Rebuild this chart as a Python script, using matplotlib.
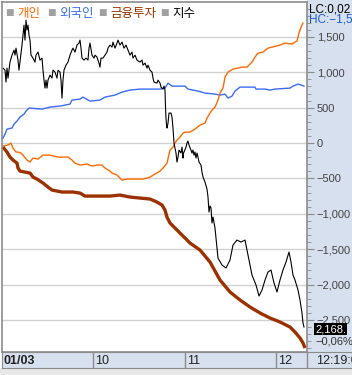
import matplotlib.pyplot as plt
from matplotlib.patches import Rectangle
from matplotlib.ticker import MultipleLocator, FuncFormatter

# x = session position (left edge of plot = 2), y = cumulative net buying
blue_x = [3, 5, 7, 12, 14, 17, 20, 24, 26, 29, 42, 50, 60, 70, 72, 80, 83, 90, 100, 105,
          110, 115, 122, 130, 140, 160, 165, 168, 172, 185, 188, 198, 205, 215, 220, 225,
          228, 232, 235, 240, 255, 256, 265, 270, 275, 290, 293, 298, 301, 304]
blue_y = [71, 127, 198, 212, 268, 311, 367, 410, 452, 495, 480, 509, 523, 551, 608, 622, 650,
          593, 608, 650, 664, 678, 721, 749, 763, 763, 777, 848, 805, 805, 763, 735, 707, 692,
          678, 692, 636, 664, 735, 791, 791, 763, 763, 749, 763, 777, 805, 834, 820, 805]

orange_x = [3, 8, 11, 13, 16, 18, 21, 23, 27, 30, 33, 38, 43, 50, 58, 68, 72, 75, 80, 87,
            92, 97, 102, 105, 110, 112, 117, 122, 127, 142, 147, 150, 155, 160, 163, 167,
            170, 173, 175, 177, 180, 183, 185, 190, 195, 200, 205, 207, 210, 212, 215, 218,
            220, 223, 225, 228, 233, 238, 242, 247, 252, 255, 258, 263, 268, 272, 280, 285,
            292, 295, 297, 299, 301, 303]
orange_y = [-42, -28, 0, -71, -127, -127, -141, -170, -240, -268, -212, -226, -170, -170,
            -198, -198, -240, -283, -311, -297, -325, -311, -311, -353, -396, -424, -452,
            -523, -509, -509, -495, -480, -438, -396, -353, -283, -99, -57, 0, 42, 85, 141,
            155, 155, 198, 254, 283, 353, 424, 466, 509, 608, 707, 777, 933, 1003, 1046, 1060,
            1074, 1074, 1145, 1215, 1272, 1286, 1342, 1356, 1385, 1413, 1399, 1427, 1441,
            1554, 1639, 1696]

brown_x = [3, 7, 10, 13, 17, 18, 20, 25, 30, 33, 37, 40, 43, 48, 52, 57, 62, 73, 80, 85,
           97, 110, 120, 130, 140, 150, 157, 162, 165, 167, 170, 175, 180, 185, 190, 200,
           210, 220, 230, 240, 250, 260, 270, 280, 290, 295, 300, 303, 305]
brown_y = [-57, -127, -198, -240, -283, -353, -396, -410, -424, -480, -509, -537, -565, -622,
           -664, -678, -692, -692, -707, -749, -749, -749, -735, -763, -777, -791, -834, -876,
           -947, -1046, -1130, -1201, -1272, -1342, -1413, -1512, -1681, -1936, -2105, -2218,
           -2317, -2402, -2473, -2529, -2600, -2671, -2755, -2826, -2897]

index_x = [3, 5, 6, 7, 8, 9, 10, 12, 14, 15, 16, 18, 19, 20, 22, 23, 24, 25, 26, 27, 28, 29,
           30, 31, 33, 35, 36, 38, 40, 42, 43, 44, 45, 46, 47, 48, 50, 52, 53, 55, 57, 58, 60,
           61, 62, 63, 64, 66, 68, 70, 72, 73, 75, 77, 79, 80, 81, 82, 84, 86, 88, 89, 90, 92,
           94, 95, 97, 99, 100, 101, 103, 105, 107, 108, 110, 112, 113, 115, 117, 118, 120,
           122, 124, 126, 128, 130, 132, 133, 135, 137, 140, 142, 143, 145, 147, 148, 150,
           152, 153, 154, 157, 158, 160, 161, 163, 164, 165, 165.5, 166, 166.5, 167, 168, 169,
           171, 172, 173, 173.5, 174, 175, 176, 177, 178, 179, 181, 182, 183, 183.5, 184, 186,
           187, 188, 189, 191, 192, 193, 194, 195, 196, 197, 198, 199, 201, 202, 203, 205, 207,
           208, 208.5, 209, 210, 211, 212, 213, 215, 218, 222, 226, 230, 233, 237, 241, 245,
           248, 252, 256, 259, 262, 265, 268, 271, 274, 277, 280, 283, 286, 289, 291, 293, 295,
           298, 300, 302, 303, 304]
index_y = [1060, 1031, 862, 1060, 918, 1031, 1145, 1243, 1314, 1243, 1342, 1173, 1031, 1145,
           1385, 1526, 1667, 1455, 1738, 1597, 1667, 1526, 1455, 1243, 1201, 1145, 1243, 1286,
           1173, 1201, 1031, 890, 777, 890, 777, 890, 961, 918, 1031, 1003, 918, 1031, 1003,
           890, 636, 890, 1031, 1102, 1145, 1243, 1314, 1342, 1286, 1385, 1413, 1455, 1342,
           1201, 1173, 1201, 1173, 1342, 1413, 1243, 1201, 1243, 1215, 1130, 1074, 1201, 1201,
           1243, 1286, 1342, 1385, 1356, 1427, 1342, 1413, 1455, 1385, 1427, 1342, 1385, 1314,
           1243, 1286, 1201, 1243, 1173, 1145, 1173, 1102, 1130, 1060, 1102, 1031, 1003, 918,
           862, 848, 890, 848, 791, 763, 805, 749, 509, 353, 254, 212, 283, 424, 424, 367, 212,
           113, 0, -71, -141, -268, -198, -99, -141, -57, -212, -141, -127, -57, 0, 28, -28,
           -99, -141, -99, -170, -127, -212, -141, -198, -268, -311, -410, -480, -551, -650,
           -763, -876, -975, -890, -918, -1130, -1046, -1201, -1625, -1724, -1766, -1653,
           -1441, -1371, -1399, -1371, -1582, -1865, -2006, -2162, -2077, -1936, -1823, -1794,
           -1978, -2105, -1936, -1794, -1681, -1540, -1681, -1865, -1936, -2077, -2218, -2402,
           -2543, -2600]

month_pos = [2, 93, 185, 276]
month_lab = ['01/03', '10', '11', '12']
legend_lab = ['개인', '외국인', '금융투자', '지수']
legend_col = ['#ff6a00', '#3a6cf4', '#993300', '#000000']

W, H = 352, 375
def fy(py):
    return 1 - py / H

panel = '#d6e0ee'
edge = '#8c8c8c'
num_font = ['Liberation Sans', 'DejaVu Sans']
kr_font = ['Noto Sans CJK KR', 'DejaVu Sans']

fig = plt.figure(figsize=(W / 100, H / 100), dpi=100)
fig.patch.set_facecolor('white')
fig.patches.append(Rectangle((307 / W, fy(352)), 45 / W, 352 / H, transform=fig.transFigure,
                             facecolor=panel, edgecolor='none', zorder=-1))

ax = fig.add_axes([2 / W, fy(352), 305 / W, 350 / H])
ax.set_xlim(2, 307)
ax.set_ylim(-2953, 1994)
ax.plot(blue_x, blue_y, color=legend_col[1], lw=1.0)
ax.plot(orange_x, orange_y, color=legend_col[0], lw=1.0)
ax.plot(brown_x, brown_y, color='#9c3100', lw=2.4, solid_capstyle='butt')
ax.plot(index_x, index_y, color='black', lw=0.8)

ax.yaxis.tick_right()
ax.set_yticks(range(-2500, 2000, 500))
ax.yaxis.set_minor_locator(MultipleLocator(100))
ax.yaxis.set_major_formatter(FuncFormatter(lambda v, p: f'{int(v):,}'.replace('-', '\u2212')))
ax.tick_params(axis='y', which='major', length=5, color=edge, labelsize=8,
               labelcolor='#444444', pad=2)
ax.tick_params(axis='y', which='minor', length=3, color=edge)
for lab in ax.get_yticklabels():
    lab.set_family(num_font)
ax.set_xticks([])
ax.grid(axis='y', color='#d2d2d2', lw=1)
ax.set_axisbelow(True)
for s in ax.spines.values():
    s.set_color(edge)
    s.set_linewidth(1.2)

# legend row
lx = [5, 47, 98, 160]
for i in range(4):
    fig.text((lx[i]) / W, fy(13), '\u25a0', color='#a0a0a0', fontsize=6.5,
             va='center', family=['DejaVu Sans'])
    fig.text((lx[i] + 12) / W, fy(13), legend_lab[i], color=legend_col[i], fontsize=9,
             va='center', family=kr_font)

fig.text(309 / W, fy(9), 'LC:0,02', color='black', fontsize=8.5, va='center', family=num_font)
fig.text(309 / W, fy(20), 'HC:\u22121,5', color='#1e5bd6', fontsize=8.5, va='center',
         family=num_font)
fig.text(315 / W, fy(329), '2,168.', color='white', fontsize=8, va='center', family=num_font,
         bbox=dict(boxstyle='square,pad=0.1', facecolor='black', edgecolor='none'))
fig.text(315 / W, fy(342), '\u22120,06%', color='#333333', fontsize=8, va='center',
         family=num_font)

# date bar
bax = fig.add_axes([2 / W, fy(368), 350 / W, 16 / H])
bax.set_xlim(2, 352)
bax.set_ylim(0, 1)
bax.set_facecolor(panel)
bax.set_xticks([])
bax.set_yticks([])
for s in bax.spines.values():
    s.set_color(edge)
for p in month_pos[1:] + [307]:
    bax.axvline(p, color=edge, lw=1)
for p, t in zip(month_pos, month_lab):
    bax.text(p + 2, 0.45, t, fontsize=9, va='center', family=num_font,
             fontweight='bold' if t == '01/03' else 'normal', color='#222222')
bax.text(316, 0.45, '12:19:0', fontsize=9, va='center', family=num_font, color='#222222')

fig.patches.append(Rectangle((0, 0), 1, 7 / H, transform=fig.transFigure,
                             facecolor='#e8e8e8', edgecolor='none', zorder=-1))

fig.savefig('out.png', dpi=100)
